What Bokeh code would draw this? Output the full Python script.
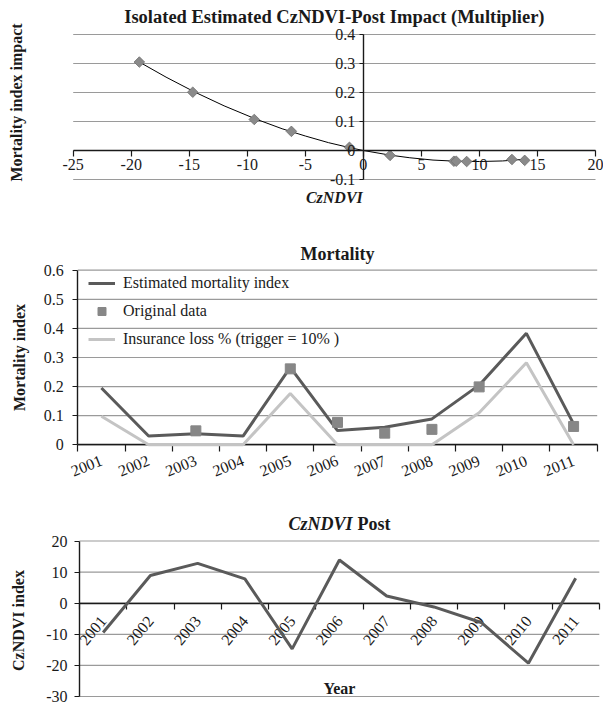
import math
from bokeh.plotting import figure
from bokeh.models import FixedTicker, Label, Legend, LegendItem, Range1d
from bokeh.layouts import column
from bokeh.embed import file_html
from bokeh.resources import INLINE

FONT = "Liberation Serif"
INK = "#1a1a1a"
GRID = "#9a9a9a"

# ---------------- data ----------------
years = ["2001", "2002", "2003", "2004", "2005", "2006",
         "2007", "2008", "2009", "2010", "2011"]

# CzNDVI Post index per year
czndvi_post = [-9.4, 8.9, 12.8, 7.8, -14.7, 13.9, 2.3, -1.2, -6.2, -19.3, 8.0]
# isolated impact on the mortality index for each CzNDVI value
impact = [0.107, -0.038, -0.031, -0.037, 0.201, -0.034, -0.017, 0.011, 0.066, 0.305, -0.037]
# fitted trend curve
trend_x = [-19.3, -17, -14.5, -12, -9.3, -7, -5, -3, -1.2, 0, 2.3, 4, 6, 8, 10, 12, 14]
trend_y = [0.305, 0.253, 0.201, 0.154, 0.109, 0.075, 0.050, 0.027, 0.010, 0.0,
           -0.016, -0.025, -0.033, -0.037, -0.038, -0.036, -0.030]

imp_x_ticks = [-25, -20, -15, -10, -5, 0, 5, 10, 15, 20]
imp_x_labels = ["-25", "-20", "-15", "-10", "-5", "0", "5", "10", "15", "20"]
imp_y_ticks = [-0.1, 0, 0.1, 0.2, 0.3, 0.4]
imp_y_labels = ["-0.1", "0", "0.1", "0.2", "0.3", "0.4"]

estimated = [0.195, 0.030, 0.038, 0.030, 0.266, 0.049, 0.060, 0.089, 0.205, 0.383, 0.072]
original = [float("nan"), float("nan"), 0.048, float("nan"), 0.261, 0.077, 0.040,
            0.053, 0.199, float("nan"), 0.063]
insurance = [0.098, 0.0, 0.0, 0.0, 0.176, 0.0, 0.0, 0.0, 0.110, 0.282, 0.0]

mort_y_ticks = [0, 0.1, 0.2, 0.3, 0.4, 0.5, 0.6]
mort_y_labels = ["0", "0.1", "0.2", "0.3", "0.4", "0.5", "0.6"]

cz_y_ticks = [-30, -20, -10, 0, 10, 20]
cz_y_labels = ["-30", "-20", "-10", "0", "10", "20"]

# category centres and boundaries on a numeric axis
centers = [i + 0.5 for i in range(len(years))]
bounds = [i for i in range(len(years) + 1)]

W = 603  # canvas width of every panel


class Map1d:
    """Maps canvas pixels (from left / from bottom) to data so the frame fills the canvas."""
    def __init__(self, v0, v1, p0, p1, total):
        self.s = (p1 - p0) / (v1 - v0)
        self.start = v0 - p0 / self.s
        self.end = v1 + (total - p1) / self.s

    def rng(self):
        return Range1d(self.start, self.end)

    def at(self, px):
        return self.start + px / self.s


def make_fig(h, mx, my):
    p = figure(width=W, height=h, min_border=0, x_range=mx.rng(), y_range=my.rng(),
               output_backend="svg", toolbar_location=None, title=None)
    p.outline_line_color = None
    p.background_fill_color = "white"
    p.border_fill_color = "white"
    p.xgrid.visible = False
    p.ygrid.visible = False
    return p


def style_axis(ax, loc, bnds, ticks, labels, tick_out, standoff):
    ax.fixed_location = loc
    ax.bounds = bnds
    ax.ticker = FixedTicker(ticks=ticks)
    ax.major_label_overrides = dict(zip(ticks, labels))
    ax.major_label_text_font = FONT
    ax.major_label_text_font_size = "16px"
    ax.major_label_text_color = INK
    ax.axis_line_color = INK
    ax.axis_line_width = 1.4
    ax.major_tick_line_color = INK
    ax.major_tick_line_width = 1.2
    ax.minor_tick_line_color = None
    ax.major_tick_in = 0
    ax.major_tick_out = tick_out
    ax.major_label_standoff = standoff


def category_axis(ax, tick_out, standoff, angle):
    ax.ticker = FixedTicker(ticks=centers, minor_ticks=bounds)
    ax.major_label_overrides = dict(zip(centers, years))
    ax.major_tick_line_color = None
    ax.major_tick_out = 0
    ax.minor_tick_line_color = INK
    ax.minor_tick_line_width = 1.2
    ax.minor_tick_out = tick_out
    ax.minor_tick_in = 0
    ax.major_label_orientation = angle
    ax.major_label_standoff = standoff


def gridlines(p, ticks, x0, x1):
    p.segment(x0=[x0] * len(ticks), y0=ticks, x1=[x1] * len(ticks), y1=ticks,
              line_color=GRID, line_width=1.2)


def label(p, x, y, text, size="16px", style="bold", align="center", angle=0.0, x_offset=0):
    p.add_layout(Label(x=x, y=y, text=text, text_font=FONT, text_font_size=size,
                       text_font_style=style, text_align=align, text_baseline="middle",
                       text_color=INK, angle=angle, x_offset=x_offset))


# ---------------- panel 1 (canvas rows 0..210) ----------------
H1 = 210
mx1 = Map1d(-25, 20, 72.7, 595.0, W)
my1 = Map1d(-0.1, 0.4, H1 - 179, H1 - 34, H1)
p1 = make_fig(H1, mx1, my1)
gridlines(p1, imp_y_ticks, -25, 20)
style_axis(p1.xaxis[0], 0, (-25, 20), imp_x_ticks, imp_x_labels, 6, 2)
style_axis(p1.yaxis[0], 0, (-0.1, 0.4), imp_y_ticks, imp_y_labels, 4, 4)

p1.line(trend_x, trend_y, line_color="black", line_width=1)
p1.scatter(czndvi_post, impact, marker="square", angle=math.pi / 4, size=7.5,
           fill_color="#8a8a8a", line_color="#6e6e6e", line_width=0.8)

label(p1, -2.5, my1.at(H1 - 16), "Isolated Estimated CzNDVI-Post Impact (Multiplier)", size="18.5px")
label(p1, -2.5, my1.at(H1 - 197), "CzNDVI", style="bold italic")
label(p1, mx1.at(16), my1.at(H1 - 102), "Mortality index impact", angle=math.pi / 2)

# ---------------- panel 2 (canvas rows 210..495) ----------------
H2 = 285
TOP2 = 210
mx2 = Map1d(0, 11, 77.3, 596.7, W)
my2 = Map1d(0, 0.6, H2 - (444.3 - TOP2), H2 - (269.7 - TOP2), H2)
p2 = make_fig(H2, mx2, my2)
gridlines(p2, mort_y_ticks, 0, 11)
style_axis(p2.xaxis[0], 0, (0, 11), centers, years, 0, 8)
category_axis(p2.xaxis[0], 7, 8, 0.38)
style_axis(p2.yaxis[0], 0, (0, 0.6), mort_y_ticks, mort_y_labels, 5, 9)

r_ins = p2.line(centers, insurance, line_color="#c4c4c4", line_width=3, level="overlay")
r_est = p2.line(centers, estimated, line_color="#5a5a5a", line_width=3, level="overlay")
r_org = p2.scatter(centers, original, marker="square", size=10,
                   fill_color="#878787", line_color="#878787", level="overlay")

legend = Legend(items=[LegendItem(label="Estimated mortality index", renderers=[r_est]),
                       LegendItem(label="Original data", renderers=[r_org]),
                       LegendItem(label="Insurance loss % (trigger = 10% )", renderers=[r_ins])],
                location=(88, H2 - (273 - TOP2) - 76), padding=0, margin=0, spacing=8,
                label_height=20, glyph_height=20, glyph_width=27, label_standoff=8,
                label_text_font=FONT, label_text_font_size="16px", label_text_color=INK,
                background_fill_alpha=0, border_line_color=None)
p2.add_layout(legend)

label(p2, 5.5, my2.at(H2 - (253 - TOP2)), "Mortality", size="18px")
label(p2, mx2.at(19), my2.at(H2 - (357 - TOP2)), "Mortality index", angle=math.pi / 2)

# ---------------- panel 3 (canvas rows 495..705) ----------------
H3 = 210
TOP3 = 495
mx3 = Map1d(0, 11, 79, 598.8, W)
my3 = Map1d(-30, 20, H3 - (696 - TOP3), H3 - (540.5 - TOP3), H3)
p3 = make_fig(H3, mx3, my3)
gridlines(p3, cz_y_ticks, 0, 11)
style_axis(p3.xaxis[0], 0, (0, 11), centers, years, 0, 9)
category_axis(p3.xaxis[0], 6, 9, 0.87)
style_axis(p3.yaxis[0], 0, (-30, 20), cz_y_ticks, cz_y_labels, 5, 7)

p3.line(centers, czndvi_post, line_color="#5a5a5a", line_width=3, level="overlay")

label(p3, 5.5, my3.at(H3 - (523 - TOP3)), "CzNDVI", size="18px", style="bold italic",
      align="right", x_offset=13)
label(p3, 5.5, my3.at(H3 - (523 - TOP3)), "Post", size="18px", style="bold",
      align="left", x_offset=18)
label(p3, 5.5, my3.at(H3 - (688 - TOP3)), "Year")
label(p3, mx3.at(18), my3.at(H3 - (620 - TOP3)), "CzNDVI index", angle=math.pi / 2)

layout = column(p1, p2, p3, spacing=0)
open("out.html", "w").write(file_html(layout, INLINE))
